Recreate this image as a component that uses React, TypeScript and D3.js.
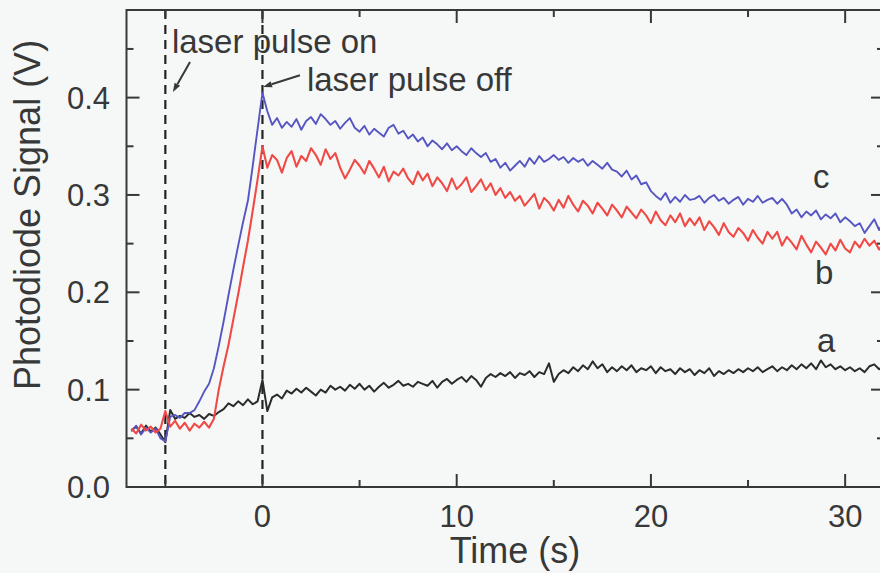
import React from 'react';
import * as d3 from 'd3';

const W = 880;
const H = 573;

// Sampling grid of the recorded traces (seconds)
const T_START = -6.75;
const T_STEP = 0.25;

// Trace a (black), photodiode signal in mV
const signalA = [
  58, 62, 55, 63,
  57, 61, 54, 46,
  79, 70, 73, 71,
  76, 72, 74, 70,
  75, 73, 77, 80,
  86, 83, 88, 84,
  90, 85, 88, 110,
  78, 92, 95, 91,
  99, 96, 101, 97,
  102, 98, 94, 100,
  97, 104, 100, 103,
  99, 105, 101, 106,
  100, 104, 98, 103,
  107, 102, 105, 109,
  104, 106, 103, 108,
  106, 104, 109, 102,
  108, 111, 106, 110,
  113, 108, 114, 110,
  103, 112, 116, 113,
  117, 114, 118, 112,
  117, 115, 119, 113,
  118, 116, 127, 108,
  116, 120, 117, 123,
  119, 125, 121, 129,
  122, 126, 118, 123,
  119, 124, 120, 125,
  118, 122, 120, 124,
  117, 123, 119, 121,
  116, 122, 118, 121,
  115, 120, 117, 122,
  114, 119, 116, 120,
  117, 121, 118, 122,
  119, 123, 118, 121,
  124, 119, 123, 120,
  125, 121, 126, 122,
  127, 121, 130, 123,
  126, 121, 124, 120,
  123, 119, 122, 118,
  124, 126, 121, 124,
];

// Trace b (red), mV
const signalB = [
  60, 55, 64, 58,
  62, 56, 60, 78,
  62, 68, 60, 66,
  58, 65, 61, 67,
  61, 70, 100, 124,
  146, 172, 198, 226,
  253, 284, 316, 350,
  328, 341, 336, 323,
  338, 345, 329, 340,
  335, 348, 341, 331,
  347, 337, 343, 328,
  317, 326, 336, 330,
  322, 335, 327, 318,
  329, 314, 324, 320,
  327, 317, 311, 324,
  315, 322, 309, 318,
  312, 304, 317, 306,
  311, 318, 303, 309,
  316, 305, 312, 300,
  307, 297, 303, 294,
  299, 289, 295, 301,
  286, 297, 292, 284,
  295, 287, 299, 290,
  283, 294, 289, 281,
  292, 286, 279, 290,
  284, 277, 288, 282,
  276, 285, 279, 271,
  283, 274, 269, 279,
  272, 281, 268, 276,
  269, 277, 264, 273,
  267, 259, 271, 262,
  257, 266, 261, 253,
  264, 256, 250, 262,
  255, 262, 248, 257,
  251, 244, 258, 249,
  241, 252, 246, 239,
  250, 243, 254, 245,
  241, 252, 246, 255,
  248, 253, 244, 250,
];

// Trace c (blue), mV
const signalC = [
  57, 63, 54, 61,
  56, 60, 50, 47,
  72, 74, 71, 76,
  76, 79, 88, 98,
  106, 122, 145, 170,
  197, 223, 248, 272,
  294, 330, 368, 405,
  386, 372, 379, 369,
  375, 370, 378, 367,
  376, 380, 373, 383,
  378, 372, 376, 368,
  374, 379, 369, 365,
  371, 362, 368, 364,
  360, 369, 372, 363,
  366, 358, 362, 355,
  359, 350, 356, 352,
  347, 353, 346, 350,
  345, 341, 348, 343,
  339, 343, 334, 337,
  328, 333, 325, 330,
  335, 329, 338, 332,
  340, 334, 337, 341,
  336, 339, 333, 338,
  334, 337, 330, 335,
  331, 327, 333, 326,
  324, 319, 325, 316,
  320, 311, 313, 304,
  299, 295, 302, 292,
  298, 293, 300, 295,
  296, 299, 292, 297,
  300, 294, 297, 291,
  295, 298, 290, 296,
  293, 299, 292, 295,
  297, 291, 296, 290,
  281, 285, 277, 283,
  279, 284, 275, 280,
  276, 281, 272, 277,
  273, 268, 271, 261,
  268, 275, 264, 274,
];

const xMajorTicks = [0, 10, 20, 30];
const xMinorTicks = [-5, 5, 15, 25];
const yMajorTicks = [0, 0.1, 0.2, 0.3, 0.4];
const yMinorTicks = [0.05, 0.15, 0.25, 0.35, 0.45];
const pulseTimes = [-5, 0];

const traceLabels = [
  { name: 'c', t: 28.35, v: 0.307 },
  { name: 'b', t: 28.45, v: 0.2085 },
  { name: 'a', t: 28.55, v: 0.1387 },
];

const FONT = "'Liberation Sans', Arial, Helvetica, sans-serif";
const INK = '#383838';

export default function App() {
  const left = 126.5;
  const right = 884;
  const top = 10;
  const bottom = 487;

  const x = d3.scaleLinear().domain([-7, 32]).range([left, right]);
  const y = d3.scaleLinear().domain([0, 0.49]).range([bottom, top]);

  const trace = d3
    .line<number>()
    .x((_, i) => x(T_START + i * T_STEP))
    .y((mv) => y(mv / 1000));

  const majorLen = 13;
  const minorLen = 7;

  const arrow = (t1: number, v1: number, t2: number, v2: number) => {
    const x1 = x(t1), y1 = y(v1), x2 = x(t2), y2 = y(v2);
    const ang = Math.atan2(y2 - y1, x2 - x1);
    const hl = 9, hw = 3.2;
    const bx = x2 - hl * Math.cos(ang);
    const by = y2 - hl * Math.sin(ang);
    const px = -Math.sin(ang) * hw;
    const py = Math.cos(ang) * hw;
    return (
      <g>
        <line x1={x1} y1={y1} x2={bx} y2={by} stroke={INK} strokeWidth={2} />
        <polygon
          points={`${x2},${y2} ${bx + px},${by + py} ${bx - px},${by - py}`}
          fill={INK}
        />
      </g>
    );
  };

  return (
    <svg
      width={W}
      height={H}
      style={{ position: 'absolute', left: 0, top: 0, background: '#f6f8f8' }}
      fontFamily={FONT}
    >
      <defs>
        <clipPath id="plotArea">
          <rect x={left} y={top} width={right - left} height={bottom - top} />
        </clipPath>
      </defs>
      <rect x={0} y={0} width={W} height={H} fill="#f6f8f8" />

      {/* pulse on / off markers */}
      {pulseTimes.map((t) => (
        <line
          key={t}
          x1={x(t)}
          x2={x(t)}
          y1={top}
          y2={bottom}
          stroke="#222"
          strokeWidth={2.2}
          strokeDasharray="9,6"
        />
      ))}

      <g clipPath="url(#plotArea)" fill="none" strokeLinejoin="round">
        <path d={trace(signalA) || ''} stroke="#2b2b2b" strokeWidth={2} />
        <path d={trace(signalC) || ''} stroke="#5656c2" strokeWidth={1.9} />
        <path d={trace(signalB) || ''} stroke="#f04a46" strokeWidth={2.1} />
      </g>

      {/* frame */}
      <path
        d={`M${right},${top}H${left}V${bottom}H${right}`}
        fill="none"
        stroke={INK}
        strokeWidth={2}
      />

      {/* ticks, inward on every side */}
      {xMajorTicks.map((t) => (
        <g key={'xM' + t}>
          <line x1={x(t)} x2={x(t)} y1={bottom} y2={bottom - majorLen} stroke={INK} strokeWidth={2} />
          <line x1={x(t)} x2={x(t)} y1={top} y2={top + majorLen} stroke={INK} strokeWidth={2} />
          <text x={x(t)} y={527} textAnchor="middle" fontSize={31} fill={INK}>
            {d3.format('d')(t)}
          </text>
        </g>
      ))}
      {xMinorTicks.map((t) => (
        <g key={'xm' + t}>
          <line x1={x(t)} x2={x(t)} y1={bottom} y2={bottom - minorLen} stroke={INK} strokeWidth={2} />
          <line x1={x(t)} x2={x(t)} y1={top} y2={top + minorLen} stroke={INK} strokeWidth={2} />
        </g>
      ))}
      {yMajorTicks.map((v) => (
        <g key={'yM' + v}>
          <line x1={left} x2={left + majorLen} y1={y(v)} y2={y(v)} stroke={INK} strokeWidth={2} />
          <line x1={right} x2={right - majorLen} y1={y(v)} y2={y(v)} stroke={INK} strokeWidth={2} />
          <text x={110} y={y(v)} dy="0.36em" textAnchor="end" fontSize={31} fill={INK}>
            {d3.format('.1f')(v)}
          </text>
        </g>
      ))}
      {yMinorTicks.map((v) => (
        <g key={'ym' + v}>
          <line x1={left} x2={left + minorLen} y1={y(v)} y2={y(v)} stroke={INK} strokeWidth={2} />
          <line x1={right} x2={right - minorLen} y1={y(v)} y2={y(v)} stroke={INK} strokeWidth={2} />
        </g>
      ))}

      {/* axis titles */}
      <text x={515} y={563} textAnchor="middle" fontSize={36} fill={INK}>
        Time (s)
      </text>
      <text
        transform={`translate(40,215) rotate(-90)`}
        textAnchor="middle"
        fontSize={36}
        fill={INK}
      >
        Photodiode Signal (V)
      </text>

      {/* annotations */}
      <text x={x(-4.66)} y={y(0.4458)} fontSize={33} fill={INK}>
        laser pulse on
      </text>
      {arrow(-3.73, 0.4366, -4.61, 0.4057)}
      <text x={x(2.29)} y={y(0.4068)} fontSize={33} fill={INK}>
        laser pulse off
      </text>
      {arrow(1.93, 0.423, 0.03, 0.411)}

      {traceLabels.map((d) => (
        <text key={d.name} x={x(d.t)} y={y(d.v)} fontSize={33} fill={INK}>
          {d.name}
        </text>
      ))}
    </svg>
  );
}
